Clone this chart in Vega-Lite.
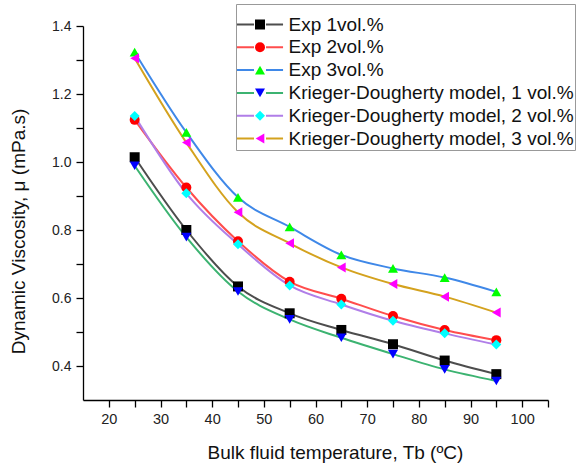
{
  "$schema": "https://vega.github.io/schema/vega-lite/v6.json",
  "width": 465,
  "height": 374,
  "autosize": {"type": "none"},
  "padding": {"left": 83, "top": 26, "right": 32, "bottom": 71},
  "config": {
    "view": {"stroke": null},
    "font": "Liberation Sans",
    "axis": {
      "grid": false,
      "domainColor": "#000",
      "domainWidth": 1.3,
      "tickColor": "#000",
      "tickWidth": 1.3,
      "labelColor": "#222",
      "titleColor": "#111",
      "labelFont": "Liberation Sans",
      "titleFont": "Liberation Sans",
      "titleFontWeight": "normal",
      "labelOverlap": false
    }
  },
  "data": {
    "values": [
      {"series": "Exp 1vol.%", "T": 25, "mu": 1.014},
      {"series": "Exp 1vol.%", "T": 35, "mu": 0.800},
      {"series": "Exp 1vol.%", "T": 45, "mu": 0.634},
      {"series": "Exp 1vol.%", "T": 55, "mu": 0.555},
      {"series": "Exp 1vol.%", "T": 65, "mu": 0.506},
      {"series": "Exp 1vol.%", "T": 75, "mu": 0.464},
      {"series": "Exp 1vol.%", "T": 85, "mu": 0.416},
      {"series": "Exp 1vol.%", "T": 95, "mu": 0.376},
      {"series": "Exp 2vol.%", "T": 25, "mu": 1.124},
      {"series": "Exp 2vol.%", "T": 35, "mu": 0.925},
      {"series": "Exp 2vol.%", "T": 45, "mu": 0.767},
      {"series": "Exp 2vol.%", "T": 55, "mu": 0.648},
      {"series": "Exp 2vol.%", "T": 65, "mu": 0.598},
      {"series": "Exp 2vol.%", "T": 75, "mu": 0.547},
      {"series": "Exp 2vol.%", "T": 85, "mu": 0.506},
      {"series": "Exp 2vol.%", "T": 95, "mu": 0.476},
      {"series": "Exp 3vol.%", "T": 25, "mu": 1.323},
      {"series": "Exp 3vol.%", "T": 35, "mu": 1.087},
      {"series": "Exp 3vol.%", "T": 45, "mu": 0.896},
      {"series": "Exp 3vol.%", "T": 55, "mu": 0.809},
      {"series": "Exp 3vol.%", "T": 65, "mu": 0.727},
      {"series": "Exp 3vol.%", "T": 75, "mu": 0.687},
      {"series": "Exp 3vol.%", "T": 85, "mu": 0.660},
      {"series": "Exp 3vol.%", "T": 95, "mu": 0.618},
      {"series": "Krieger-Dougherty model, 1 vol.%", "T": 25, "mu": 0.989},
      {"series": "Krieger-Dougherty model, 1 vol.%", "T": 35, "mu": 0.779},
      {"series": "Krieger-Dougherty model, 1 vol.%", "T": 45, "mu": 0.619},
      {"series": "Krieger-Dougherty model, 1 vol.%", "T": 55, "mu": 0.537},
      {"series": "Krieger-Dougherty model, 1 vol.%", "T": 65, "mu": 0.483},
      {"series": "Krieger-Dougherty model, 1 vol.%", "T": 75, "mu": 0.435},
      {"series": "Krieger-Dougherty model, 1 vol.%", "T": 85, "mu": 0.390},
      {"series": "Krieger-Dougherty model, 1 vol.%", "T": 95, "mu": 0.356},
      {"series": "Krieger-Dougherty model, 2 vol.%", "T": 25, "mu": 1.135},
      {"series": "Krieger-Dougherty model, 2 vol.%", "T": 35, "mu": 0.908},
      {"series": "Krieger-Dougherty model, 2 vol.%", "T": 45, "mu": 0.758},
      {"series": "Krieger-Dougherty model, 2 vol.%", "T": 55, "mu": 0.637},
      {"series": "Krieger-Dougherty model, 2 vol.%", "T": 65, "mu": 0.581},
      {"series": "Krieger-Dougherty model, 2 vol.%", "T": 75, "mu": 0.533},
      {"series": "Krieger-Dougherty model, 2 vol.%", "T": 85, "mu": 0.496},
      {"series": "Krieger-Dougherty model, 2 vol.%", "T": 95, "mu": 0.463},
      {"series": "Krieger-Dougherty model, 3 vol.%", "T": 25, "mu": 1.305},
      {"series": "Krieger-Dougherty model, 3 vol.%", "T": 35, "mu": 1.057},
      {"series": "Krieger-Dougherty model, 3 vol.%", "T": 45, "mu": 0.852},
      {"series": "Krieger-Dougherty model, 3 vol.%", "T": 55, "mu": 0.761},
      {"series": "Krieger-Dougherty model, 3 vol.%", "T": 65, "mu": 0.690},
      {"series": "Krieger-Dougherty model, 3 vol.%", "T": 75, "mu": 0.641},
      {"series": "Krieger-Dougherty model, 3 vol.%", "T": 85, "mu": 0.604},
      {"series": "Krieger-Dougherty model, 3 vol.%", "T": 95, "mu": 0.557}
    ]
  },
  "encoding": {
    "x": {
      "field": "T",
      "type": "quantitative",
      "scale": {"domain": [15, 105], "nice": false, "zero": false},
      "axis": {
        "values": [20, 25, 30, 35, 40, 45, 50, 55, 60, 65, 70, 75, 80, 85, 90, 95, 100, 105],
        "labelExpr": "datum.value % 10 === 0 ? datum.label : ''",
        "tickSize": 7,
        "labelFontSize": 14.5,
        "labelPadding": 5,
        "title": "Bulk fluid temperature, Tb (ºC)",
        "titleFontSize": 19,
        "titleX": 252,
        "titleY": 52,
        "titleBaseline": "middle",
        "titleAlign": "center",
        "encode": {"ticks": {"update": {"y2": {"signal": "datum.value % 10 === 0 ? 7 : 4"}}}}
      }
    },
    "y": {
      "field": "mu",
      "type": "quantitative",
      "scale": {"domain": [0.3, 1.4], "nice": false, "zero": false},
      "axis": {
        "values": [0.4, 0.5, 0.6, 0.7, 0.8, 0.9, 1.0, 1.1, 1.2, 1.3, 1.4],
        "labelExpr": "round(datum.value * 10) % 2 === 0 ? format(datum.value, '.1f') : ''",
        "tickSize": 7,
        "labelFontSize": 14,
        "labelPadding": 5,
        "title": "Dynamic Viscosity, μ (mPa.s)",
        "titleFontSize": 19,
        "titleAngle": -90,
        "titleX": -65,
        "titleY": 205,
        "titleBaseline": "middle",
        "titleAlign": "center",
        "encode": {"ticks": {"update": {"x2": {"signal": "round(datum.value * 10) % 2 === 0 ? -7 : -4"}}}}
      }
    }
  },
  "layer": [
    {
      "mark": {"type": "line", "interpolate": "monotone", "strokeWidth": 2},
      "encoding": {
        "stroke": {
          "field": "series",
          "type": "nominal",
          "scale": {"range": ["#4d4d4d", "#ff4d4d", "#3f88e8", "#3cb371", "#b07ee8", "#d4a21e"]},
          "legend": {
            "orient": "none",
            "legendX": 153,
            "legendY": -22,
            "title": " ",
            "titleFontSize": 4,
            "titlePadding": 6,
            "symbolType": "M-5,0H-1.3M1.3,0H5",
            "symbolSize": 85,
            "symbolStrokeWidth": 2,
            "symbolOffset": 13.5,
            "labelOffset": 19,
            "labelFontSize": 19,
            "labelFont": "Liberation Sans",
            "labelColor": "#111",
            "labelLimit": 400,
            "rowPadding": 2.8,
            "padding": 1,
            "strokeColor": "#999"
          }
        }
      }
    },
    {
      "mark": {"type": "point", "filled": true, "size": 100, "opacity": 1},
      "encoding": {
        "fill": {
          "field": "series",
          "type": "nominal",
          "scale": {
            "domain": ["Exp 1vol.%", "Exp 2vol.%", "Exp 3vol.%", "Krieger-Dougherty model, 1 vol.%", "Krieger-Dougherty model, 2 vol.%", "Krieger-Dougherty model, 3 vol.%"],
            "range": ["#000000", "#ff0000", "#00ff00", "#0000ff", "#00ffff", "#ff00ff"]
          },
          "legend": {
            "orient": "none",
            "legendX": 153,
            "legendY": -22,
            "title": " ",
            "titleFontSize": 4,
            "titlePadding": 6,
            "symbolSize": 100,
            "symbolStrokeWidth": 2,
            "symbolStrokeColor": "transparent",
            "symbolOffset": 13.5,
            "labelOffset": 19,
            "labelFontSize": 19,
            "labelOpacity": 0,
            "labelLimit": 400,
            "rowPadding": 2.8,
            "padding": 1
          }
        },
        "shape": {
          "field": "series",
          "type": "nominal",
          "scale": {
            "domain": ["Exp 1vol.%", "Exp 2vol.%", "Exp 3vol.%", "Krieger-Dougherty model, 1 vol.%", "Krieger-Dougherty model, 2 vol.%", "Krieger-Dougherty model, 3 vol.%"],
            "range": ["square", "circle", "triangle-up", "triangle-down", "diamond", "triangle-left"]
          },
          "legend": {
            "orient": "none",
            "legendX": 153,
            "legendY": -22,
            "title": " ",
            "titleFontSize": 4,
            "titlePadding": 6,
            "symbolSize": 100,
            "symbolStrokeWidth": 2,
            "symbolStrokeColor": "transparent",
            "symbolOffset": 13.5,
            "labelOffset": 19,
            "labelFontSize": 19,
            "labelOpacity": 0,
            "labelLimit": 400,
            "rowPadding": 2.8,
            "padding": 1
          }
        }
      }
    }
  ]
}
